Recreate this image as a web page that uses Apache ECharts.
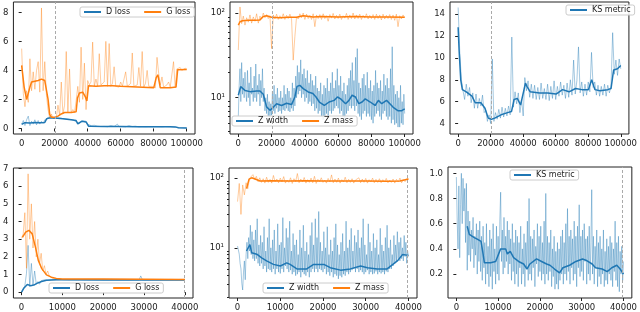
<!DOCTYPE html>
<html><head><meta charset="utf-8">
<script src="https://cdn.jsdelivr.net/npm/echarts@6/dist/echarts.min.js"></script>
<style>html,body{margin:0;padding:0;background:#fff}#c{width:640px;height:312px}</style>
</head><body><div id="c"></div><script>
// ---------------- DATA ----------------
const topRawStep = 1000;      // raw logging interval, top row (0..100000)
const topFineStep = 500;      // finer logging, top-middle Z width
const botRawStep = 400;       // raw logging interval, bottom row (0..40000)
const botFineStep = 200;      // finer logging, bottom Z width / KS
const topXTicks = [0, 20000, 40000, 60000, 80000, 100000];
const botXTicks = [0, 10000, 20000, 30000, 40000];
const topMarker = 20500;
const botMarker = 39800;

// Top-left: D loss / G loss
const tlDRaw = [0.3,0.55,0.2,0.6,0.85,0.2,0.5,0.3,0.6,0.25,
 0.55,0.3,0.5,0.35,0.6,0.5,0.75,0.7,0.85,0.7,
 0.75,0.72,0.7,0.72,0.68,0.68,0.66,0.65,0.64,0.62,
 0.62,0.6,0.58,0.45,0.32,0.35,0.48,0.52,0.5,0.5,
 0.3,0.18,0.2,0.15,0.22,0.14,0.16,0.2,0.13,0.15,
 0.14,0.18,0.12,0.14,0.2,0.12,0.14,0.13,0.3,0.12,
 0.14,0.12,0.15,0.11,0.13,0.2,0.12,0.13,0.12,0.16,
 0.12,0.11,0.14,0.12,0.13,0.11,0.15,0.12,0.12,0.11,
 0.14,0.12,0.13,0.12,0.14,0.11,0.12,0.13,0.11,0.12,
 0.13,0.11,0.12,0.1,0.06,0.05,0.04,0.05,0.03,0.04,0.03];
const tlGRaw = [5.5,2.4,1.5,2.6,1.8,4.8,2.6,3.9,2.7,4.0,
 4.6,2.5,8.3,2.6,4.6,2.3,1.3,0.7,1.0,0.7,
 0.8,0.75,1.6,0.9,3.2,1.0,1.6,5.3,1.1,4.1,
 1.1,1.3,1.1,1.9,2.9,1.8,5.6,2.0,4.5,1.3,
 3.3,3.0,3.2,5.95,2.9,3.4,2.9,5.15,3.0,2.9,
 3.2,6.0,2.9,5.85,2.9,3.1,4.25,2.9,3.0,2.85,
 3.2,2.9,3.0,3.9,2.9,2.85,3.1,5.2,2.9,2.8,
 3.0,4.2,2.9,5.3,2.85,3.1,4.0,2.9,2.85,2.9,
 3.0,2.8,4.9,3.8,3.0,3.55,2.85,2.8,3.0,3.2,
 2.85,2.9,4.6,2.8,4.1,4.0,4.2,4.0,4.1,4.15,4.1];
const tlDSmoothX = [0,2000,5000,8000,11000,14000,15200,17000,20000,25000,30000,33000,34000,36500,39000,40500,42000,50000,60000,70000,80000,90000,93000,95000,100000];
const tlDSmoothY = [0.28,0.4,0.38,0.42,0.4,0.42,0.67,0.73,0.72,0.67,0.6,0.55,0.32,0.5,0.45,0.16,0.15,0.14,0.13,0.12,0.12,0.12,0.11,0.05,0.03];
const tlGSmoothX = [0,1500,3000,4000,5000,6000,8000,10000,12000,14000,15000,16000,17000,18000,20000,22000,24000,26000,30000,33000,33800,35000,37000,38500,39500,40500,41500,45000,50000,55000,60000,70000,80000,81500,82500,83500,84000,90000,93500,94500,100000];
const tlGSmoothY = [4.35,2.85,2.0,1.9,2.85,3.2,3.25,3.3,3.4,3.3,3.25,2.0,0.95,0.78,0.78,0.85,1.0,1.1,1.1,1.15,2.1,2.45,2.5,2.2,1.9,2.95,3.0,2.9,2.95,2.95,2.9,2.85,2.8,3.5,3.7,3.7,2.8,2.8,2.85,4.05,4.07];

// Top-middle: Z width / Z mass (log)
const tmWidthRaw = [6,14,22,9,26,11,17,10,20,12,
 9,21,10,15,8,23,11,13,9,18,
 10,25,9,14,11,19,8,16,10,22,
 9,13,7,10,6.5,11,6,9,5.8,8.5,
 6.2,12,7,14,6.5,11,7.5,13,6.8,10,
 7,12,6.5,10,7.2,14,7,11,7.5,13,
 7,12,6.8,10,7.5,15,7,13,8,18,
 10,24,11,20,12,28,10,19,11,22,
 9,17,10,21,8.5,15,9,19,8,16,
 8.5,14,7,18,7.5,13,6.5,12,7,15,
 6,11,5.5,14,6,13,6.5,17,6,12,
 7,15,6.5,20,7,13,7.5,16,8,22,
 7.5,14,6.5,18,7,12,6,15,5.5,11,
 6.5,14,7,17,8,21,7.5,26,8,16,
 7,30,8,38,6.5,15,6,13,5.5,17,
 6.5,19,7,14,6,20,6.5,13,6,16,
 5.5,12,5,14,6,21,6.5,15,7,13,
 6,16,5.5,12,6.5,19,7,14,6,17,
 5.5,13,6,22,5,40,5.5,14,4.8,11,
 5,12,4.5,10,4.5,14,5,9,4.8,11,6.5];
const tmMassRaw = [36.6,118,75,92,72,88,78,95,76,90,
 80,98,76,92,85,100,88,96,86,93,
 38,95,85,97,84,93,86,98,84,94,
 86,97,85,27.8,53,90,85,98,88,100,
 84,97,86,94,84,98,69,95,86,96,
 84,98,86,93,80,96,87,99,85,94,
 86,97,84,93,87,99,84,95,86,100,
 85,95,86,97,84,94,87,98,85,94,
 86,96,84,97,86,95,83,97,85,94,
 86,96,84,95,82,97,69,93,85,95,88];
const tmWidthSmoothX = [0,1400,2400,4000,7000,11000,13000,15000,17000,19000,21000,23000,26000,29000,32000,34000,35300,37000,39000,42000,44800,46700,48700,51700,54600,57600,59600,61500,64500,66500,68400,70400,72400,74400,76300,79300,82200,84200,86200,89100,91100,93100,96100,98000,100000];
const tmWidthSmoothY = [10.7,13.5,13.9,12.2,11.8,12,12,11,7.8,7.1,7.7,8.5,8.1,8.6,8.3,10.2,13.6,14.0,12.8,11.7,11.2,10.2,8.9,8.1,8.9,9.3,10.2,9.7,8.5,9.3,10.7,10.2,8.5,8.9,9.7,8.9,8.1,9.3,8.5,9.3,8.5,7.7,7.0,7.0,7.4];
const tmMassSmoothX = [0,1000,2500,6000,10000,13000,15000,17000,20000,25000,30000,35000,39000,45000,50000,60000,70000,80000,90000,100000];
const tmMassSmoothY = [72,79,81,82,82,83,91,93,89,88,89,89,93,90,91,90,91,90,90,89];

// Top-right: KS metric
const trKSRaw = [14.6,10.5,8.0,7.0,6.2,7.6,6.5,7.3,5.9,6.8,
 5.4,6.7,5.4,6.3,5.6,6.6,5.0,5.2,4.2,4.8,
 4.0,9.9,4.2,5.0,4.4,5.3,4.5,5.5,4.6,5.4,
 4.7,5.6,4.8,11.9,5.5,6.9,5.8,6.8,5.0,6.2,
 4.7,8.2,7.0,7.9,6.4,7.6,6.3,7.5,6.2,7.3,
 6.2,7.7,6.3,7.2,6.2,7.6,6.1,7.4,6.3,7.9,
 6.2,7.4,6.5,7.8,6.6,7.5,6.3,7.7,6.4,8.0,
 6.6,9.8,6.7,7.9,11.0,6.8,7.8,6.5,7.6,6.6,
 7.8,6.9,10.5,7.3,7.8,6.6,7.5,6.5,7.4,6.6,
 7.6,6.5,7.5,6.8,7.4,12.3,8.5,9.8,8.4,9.9,9.0];
const trKSSmoothX = [0,600,1600,2600,5000,8500,10500,14000,16500,18500,20500,22500,26400,30400,32800,34400,36400,38400,39400,41400,42300,44300,50000,55000,60200,64200,68200,72200,76100,80100,82100,84100,87100,92000,94000,95600,98000,100000];
const trKSSmoothY = [12.8,10.7,8.0,7.1,6.9,6.5,5.9,5.9,5.4,4.5,4.4,4.5,4.8,5.0,5.1,6.2,6.3,5.7,5.6,7.7,7.4,6.9,6.8,6.8,6.7,7.1,6.9,7.2,7.1,7.1,8.0,7.1,7.0,7.1,7.2,8.9,9.0,9.3];

// Bottom-left: D loss / G loss
const blDRaw = [0.0,0.2,0.35,1.07,2.65,0.3,1.63,0.4,1.2,0.45,
 0.6,0.45,0.65,0.55,0.7,0.6,0.68,0.65,0.7,0.68,
 0.7,0.69,0.7,0.69,0.71,0.69,0.7,0.69,0.7,0.69,
 0.7,0.69,0.7,0.69,0.7,0.69,0.71,0.69,0.7,0.69,
 0.7,0.69,0.7,0.69,0.7,0.69,0.7,0.69,0.71,0.69,
 0.7,0.69,0.7,0.69,0.7,0.69,0.7,0.69,0.7,0.69,
 0.7,0.69,0.7,0.69,0.7,0.69,0.7,0.69,0.7,0.69,
 0.7,0.69,0.7,0.92,0.7,0.69,0.7,0.69,0.7,0.69,
 0.7,0.69,0.7,0.69,0.7,0.69,0.7,0.69,0.7,0.69,
 0.7,0.69,0.7,0.69,0.7,0.69,0.7,0.69,0.7,0.69,0.69];
const blGRaw = [3.05,3.3,4.5,1.35,6.7,3.0,5.0,2.5,4.0,2.0,
 3.0,1.6,2.2,1.2,1.5,1.0,1.2,0.9,1.0,0.8,
 0.9,0.75,0.8,0.72,0.78,0.72,0.76,0.72,0.74,0.71,
 0.8,0.72,0.74,0.72,0.75,0.71,0.73,0.72,0.76,0.72,
 0.74,0.71,0.73,0.72,0.74,0.72,0.75,0.71,0.73,0.72,
 0.74,0.72,0.78,0.71,0.73,0.72,0.74,0.72,0.75,0.71,
 0.73,0.72,0.74,0.72,0.75,0.71,0.73,0.72,0.74,0.72,
 0.76,0.71,0.73,0.72,0.74,0.72,0.75,0.71,0.73,0.72,
 0.74,0.72,0.75,0.71,0.73,0.72,0.74,0.72,0.75,0.71,
 0.73,0.72,0.74,0.72,0.75,0.71,0.73,0.72,0.74,0.72,0.73];
const blDSmoothX = [0,600,1400,2200,3000,3750,4900,6100,8500,10000,20000,30000,40000];
const blDSmoothY = [0.0,0.24,0.43,0.37,0.4,0.5,0.6,0.67,0.7,0.7,0.69,0.69,0.69];
const blGSmoothX = [200,1000,1800,2600,3400,4100,4900,6100,7300,8500,10000,15000,20000,30000,40000];
const blGSmoothY = [3.1,3.4,3.5,3.3,2.55,1.8,1.35,0.98,0.85,0.78,0.75,0.74,0.74,0.73,0.72];

// Bottom-middle: Z width / Z mass (log)
const bmWidthRaw = [10.6,10,8.1,6,5.0,3.1,2.5,4.5,6.5,3.5,
 8,12,7,14,9,21,8,17,7,13,
 6.5,18,7,26,6,11,5.5,15,6,12,
 5,20,5.5,9,4.5,14,5,26,4.8,10,
 4.5,13,5,18,4.2,9,5,22,4.5,11,
 4.3,12,5,27,4.5,10,5.5,19,5,14,
 4.5,24,4.8,9,4.2,16,4.5,11,4,13,
 4.2,8,4.5,18,3.8,10,4.5,21,4.2,9,
 4,12,4.5,8,3.8,15,4.5,23,5,11,
 4.5,26,5,14,4.5,33,5,12,4.8,9,
 4.5,17,5,10,4.2,20,4.5,8,4,13,
 4.5,9,3.8,14,4.2,22,4,11,3.6,8,
 4,12,3.8,16,4.2,9,4,24,4.5,10,
 4.2,13,4.5,19,4.8,9,5,15,4.5,12,
 5,18,4.5,10,4.8,14,4.5,26,4.2,11,
 4.5,8,4.8,22,4.2,12,4.5,9,4.2,16,
 4.3,10,4.6,13,4.2,8,4.5,19,4.3,11,
 4.5,9,4.2,14,4.6,21,4.5,10,5,13,
 5,8,5.5,15,6,11,6.5,17,7,12,
 6.5,14,7,10,6.5,15,7.5,12,6,9,7.5];
const bmMassRaw = [45.7,83,30,79,57,85,70,98,103,111,
 95,105,88,100,86,97,84,102,86,95,
 84,108,88,96,85,99,87,104,84,93,
 86,100,83,97,88,115,85,96,87,101,
 84,94,86,99,85,105,83,95,88,100,
 86,93,84,98,87,110,85,96,86,99,
 84,94,87,102,85,95,86,97,84,93,
 88,100,85,96,86,98,84,94,87,99,
 85,95,86,97,85,94,87,98,85,93,
 86,96,84,95,87,99,85,94,88,97,96];
const bmWidthSmoothX = [2100,2900,3300,4500,5650,6800,8400,10000,11500,12300,13900,16200,17800,20200,21700,24100,26400,28800,30400,32700,35000,37400,38600,40000];
const bmWidthSmoothY = [9.0,11.1,8.5,8.1,7.2,6.5,5.8,5.5,6.1,5.8,5.0,5.0,5.8,5.8,5.2,4.8,5.0,5.5,5.2,5.0,5.0,6.5,8.0,7.8];
const bmMassSmoothX = [2100,2700,3300,4100,5250,8000,12000,16000,20000,25000,30000,35000,38000,40000];
const bmMassSmoothY = [70,95.7,100,96,90,91,90,91,90,90,90,89,90,96];

// Bottom-right: KS metric
const brKSRaw = [0.97,0.62,0.4,0.9,0.33,0.75,1.0,0.6,0.96,0.7,
 0.88,0.45,0.92,0.23,0.7,0.35,0.62,0.3,0.55,0.4,
 0.65,0.25,0.5,0.35,0.6,0.2,0.55,0.3,0.62,0.22,
 0.5,0.15,0.58,0.25,0.45,0.12,0.6,0.2,0.42,0.1,
 0.55,0.18,0.48,0.08,0.6,0.22,0.4,0.12,0.58,0.2,
 0.5,0.15,0.62,0.85,0.3,0.55,0.2,0.65,0.25,0.5,
 0.3,0.62,0.2,0.55,0.28,0.48,0.15,0.6,0.22,0.45,
 0.12,0.55,0.2,0.5,0.1,0.45,0.25,0.58,0.12,0.4,
 0.2,0.52,0.1,0.45,0.25,0.62,0.15,0.8,0.2,0.5,
 0.15,0.48,0.25,0.55,0.1,0.42,0.28,0.6,0.18,0.5,
 0.22,0.58,0.15,0.45,0.2,0.62,0.12,0.84,0.2,0.5,
 0.15,0.45,0.22,0.55,0.1,0.4,0.18,0.5,0.08,0.38,
 0.12,0.45,0.08,0.4,0.15,0.5,0.2,0.55,0.12,0.45,
 0.2,0.6,0.15,0.72,0.22,0.5,0.12,0.55,0.25,0.48,
 0.15,0.62,0.2,0.5,0.1,0.58,0.25,0.75,0.18,0.5,
 0.22,0.55,0.15,0.6,0.3,0.48,0.12,0.5,0.2,0.58,
 0.15,0.45,0.87,0.2,0.5,0.12,0.42,0.25,0.55,0.1,
 0.45,0.18,0.5,0.12,0.4,0.2,0.55,0.1,0.38,0.15,
 0.48,0.12,0.42,0.2,0.5,0.15,0.45,0.1,0.4,0.22,
 0.62,0.15,0.45,0.1,0.5,0.06,0.38,0.2,0.42,0.15,0.3];
const brKSSmoothX = [2600,3100,3500,4300,5100,5900,6300,6700,8200,9400,10600,11800,12200,12900,13700,14900,16100,16900,17600,19200,20400,21600,22400,23500,24700,25500,27100,28600,30200,31000,32500,33300,34900,36100,37200,38400,39200,40000];
const brKSSmoothY = [0.58,0.515,0.5,0.49,0.475,0.46,0.38,0.29,0.29,0.3,0.4,0.4,0.36,0.38,0.33,0.3,0.28,0.24,0.28,0.32,0.3,0.28,0.27,0.24,0.21,0.25,0.27,0.3,0.32,0.31,0.28,0.25,0.24,0.22,0.25,0.27,0.24,0.2];

const tlYTicks = [0,2,4,6,8];
const trYTicks = [4,6,8,10,12,14];
const blYTicks = [0,1,2,3,4,5,6,7];
const brYTicks = [0.2,0.4,0.6,0.8,1.0];
const logMajor = [10,100];
const logMinor = [2,3,4,5,6,7,8,9,20,30,40,50,60,70,80,90];

// ---------------- BUILD ----------------
const BLUE = '#1f77b4', ORANGE = '#ff7f0e', FONT = 'DejaVu Sans';
const raw = (vals, step) => vals.map((v, i) => [i * step, v]);
const pairs = (xs, ys) => xs.map((x, i) => [x, ys[i]]);

const grids = [
  {left:9, top:2, width:186, height:132},
  {left:230, top:2, width:183, height:132},
  {left:450, top:2, width:184, height:132},
  {left:9, top:168, width:184, height:131},
  {left:229, top:168, width:188, height:131},
  {left:448, top:167, width:189, height:132}
].map(g => Object.assign({show:true, borderColor:'#222', borderWidth:1, backgroundColor:'#fff'}, g));

function xAx(gi, min, max, ticks) {
  return {type:'value', gridIndex:gi, min, max, splitLine:{show:false}, axisLine:{show:false},
    axisTick:{show:true, length:3, lineStyle:{color:'#222'}, customValues:ticks},
    axisLabel:{customValues:ticks, fontSize:8.5, color:'#222', fontFamily:FONT, margin:5, formatter:v=>String(v)}};
}
function yAx(gi, min, max, ticks, fmt) {
  return {type:'value', gridIndex:gi, min, max, splitLine:{show:false}, axisLine:{show:false},
    axisTick:{show:true, length:3, lineStyle:{color:'#222'}, customValues:ticks},
    axisLabel:{customValues:ticks, fontSize:8.5, color:'#222', fontFamily:FONT, margin:5, formatter:fmt || (v=>String(v))}};
}
function yLog(gi, min, max) {
  return {type:'log', logBase:10, gridIndex:gi, min, max, splitLine:{show:false}, axisLine:{show:false},
    axisTick:{show:true, length:3, lineStyle:{color:'#222'}, customValues:logMajor},
    axisLabel:{customValues:logMajor, fontSize:8.5, color:'#222', fontFamily:FONT, margin:5,
      formatter:v=> (v >= 50 ? '10²' : '10¹')}};
}
function yLogMinor(gi, min, max) {
  return {type:'log', logBase:10, gridIndex:gi, min, max, position:'left', splitLine:{show:false}, axisLine:{show:false},
    axisTick:{show:true, length:2, lineStyle:{color:'#222'}, customValues:logMinor},
    axisLabel:{show:false}};
}

const xAxis = [
  xAx(0,-5000,105000,topXTicks), xAx(1,-5000,105000,topXTicks), xAx(2,-5000,105000,topXTicks),
  xAx(3,-2000,42000,botXTicks), xAx(4,-2000,42000,botXTicks), xAx(5,-2000,42000,botXTicks)
];
const yAxis = [
  yAx(0,-0.38,8.71,tlYTicks),
  yLog(1,3.73,135),
  yAx(2,3.05,15.1,trYTicks),
  yAx(3,-0.33,7.03,blYTicks),
  yLog(4,1.92,138),
  yAx(5,0.01,1.05,brYTicks,v=>v.toFixed(1)),
  yLogMinor(1,3.73,135),
  yLogMinor(4,1.92,138)
];

function ln(name, gi, data, color, isRaw, marker) {
  const s = {type:'line', name, xAxisIndex:gi, yAxisIndex:gi, data, showSymbol:false, symbol:'none',
    silent:true, color, z: isRaw ? 2 : 3,
    lineStyle:{color, width: isRaw ? 0.8 : 1.5, opacity: isRaw ? 0.5 : 1}};
  if (marker != null) {
    s.markLine = {symbol:'none', silent:true, label:{show:false}, animation:false,
      lineStyle:{color:'#aaa', type:[3,2], width:1}, data:[{xAxis:marker}]};
  }
  return s;
}

const series = [
  ln('D loss raw',0,raw(tlDRaw,topRawStep),BLUE,true,topMarker),
  ln('D loss',0,pairs(tlDSmoothX,tlDSmoothY),BLUE,false),
  ln('G loss raw',0,raw(tlGRaw,topRawStep),ORANGE,true),
  ln('G loss',0,pairs(tlGSmoothX,tlGSmoothY),ORANGE,false),

  ln('Z width raw',1,raw(tmWidthRaw,topFineStep),BLUE,true,topMarker),
  ln('Z width',1,pairs(tmWidthSmoothX,tmWidthSmoothY),BLUE,false),
  ln('Z mass raw',1,raw(tmMassRaw,topRawStep),ORANGE,true),
  ln('Z mass',1,pairs(tmMassSmoothX,tmMassSmoothY),ORANGE,false),

  ln('KS metric raw',2,raw(trKSRaw,topRawStep),BLUE,true,topMarker),
  ln('KS metric',2,pairs(trKSSmoothX,trKSSmoothY),BLUE,false),

  ln('D loss raw',3,raw(blDRaw,botRawStep),BLUE,true,botMarker),
  ln('D loss',3,pairs(blDSmoothX,blDSmoothY),BLUE,false),
  ln('G loss raw',3,raw(blGRaw,botRawStep),ORANGE,true),
  ln('G loss',3,pairs(blGSmoothX,blGSmoothY),ORANGE,false),

  ln('Z width raw',4,raw(bmWidthRaw,botFineStep),BLUE,true,botMarker),
  ln('Z width',4,pairs(bmWidthSmoothX,bmWidthSmoothY),BLUE,false),
  ln('Z mass raw',4,raw(bmMassRaw,botRawStep),ORANGE,true),
  ln('Z mass',4,pairs(bmMassSmoothX,bmMassSmoothY),ORANGE,false),

  ln('KS metric raw',5,raw(brKSRaw,botFineStep),BLUE,true,botMarker),
  ln('KS metric',5,pairs(brKSSmoothX,brKSSmoothY),BLUE,false)
];

function lg(left, top, names) {
  return {left, top, data:names.map(n=>({name:n, icon:'rect'})), orient:'horizontal', itemWidth:17, itemHeight:2,
    itemGap:14, selectedMode:false, padding:[1,4,1,4], backgroundColor:'rgba(255,255,255,0.85)',
    borderColor:'#ccc', borderWidth:1, borderRadius:2,
    textStyle:{fontSize:8, color:'#222', fontFamily:FONT}};
}
const legend = [
  lg(80,7,['D loss','G loss']),
  lg(232,116,['Z width','Z mass']),
  lg(566,5,['KS metric']),
  lg(49,283,['D loss','G loss']),
  lg(263,283,['Z width','Z mass']),
  lg(510,170,['KS metric'])
];

const chart = echarts.init(document.getElementById('c'), null, {renderer:'canvas'});
chart.setOption({animation:false, backgroundColor:'#fff', grid:grids, xAxis, yAxis, legend, series});
</script></body></html>
